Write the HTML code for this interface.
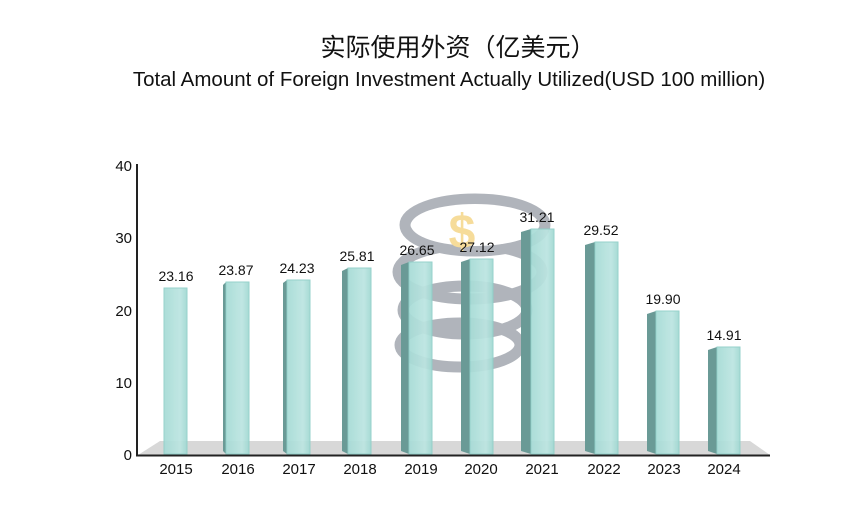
<!DOCTYPE html>
<html><head><meta charset="utf-8"><style>
html,body{margin:0;padding:0;background:#fff;}
svg{display:block;font-family:"Liberation Sans","Noto Sans CJK SC",sans-serif;}
</style></head><body>
<svg width="850" height="520" viewBox="0 0 850 520">
<defs>
<linearGradient id="fg" x1="0" y1="0" x2="1" y2="0">
<stop offset="0" stop-color="#a6dbd6"/><stop offset="0.7" stop-color="#bce5e1"/><stop offset="1" stop-color="#a0d8d2"/>
</linearGradient>
</defs>
<text x="458" y="56" font-size="25" text-anchor="middle" fill="#111">实际使用外资（亿美元）</text>
<text x="449" y="86" font-size="20.5" text-anchor="middle" fill="#111">Total Amount of Foreign Investment Actually Utilized(USD 100 million)</text>
<polygon points="160,441 750,441 770,455 138,455" fill="#d8d8d8"/>
<g fill="none" stroke="#a3a8b0" stroke-width="11" opacity="0.85">
<ellipse cx="460" cy="345" rx="60" ry="22"/>
<ellipse cx="465" cy="310" rx="62" ry="24"/>
<ellipse cx="470" cy="272" rx="72" ry="27"/>
<ellipse cx="475" cy="225" rx="70" ry="26"/>
</g>
<ellipse cx="475" cy="225" rx="64" ry="21" fill="#fff"/>
<text x="462" y="248" font-size="48" font-weight="bold" fill="#f6dc9a" text-anchor="middle">$</text>
<line x1="137" y1="164" x2="137" y2="456" stroke="#222" stroke-width="2"/>
<line x1="136" y1="455.5" x2="770" y2="455.5" stroke="#222" stroke-width="2"/>
<g font-size="15" fill="#111" text-anchor="end">
<text x="132" y="171">40</text><text x="132" y="243">30</text><text x="132" y="316">20</text><text x="132" y="388">10</text><text x="132" y="460">0</text>
</g>
<g fill="#6a9a96">
<polygon points="223,285 226,282 226,454 223,451"/>
<polygon points="283,283 287,280 287,454 283,451"/>
<polygon points="342,271 348,268 348,454 342,451"/>
<polygon points="401,265 409,262 409,454 401,451"/>
<polygon points="461,262 470,259 470,454 461,451"/>
<polygon points="521,232 531,229 531,454 521,451"/>
<polygon points="585,245 595,242 595,454 585,451"/>
<polygon points="647,314 656,311 656,454 647,451"/>
<polygon points="708,350 717,347 717,454 708,451"/>
</g>
<g fill="url(#fg)" stroke="#8fcfc8" stroke-width="1" opacity="0.93">
<rect x="164" y="288" width="23" height="166"/>
<rect x="226" y="282" width="23" height="172"/>
<rect x="287" y="280" width="23" height="174"/>
<rect x="348" y="268" width="23" height="186"/>
<rect x="409" y="262" width="23" height="192"/>
<rect x="470" y="259" width="23" height="195"/>
<rect x="531" y="229" width="23" height="225"/>
<rect x="595" y="242" width="23" height="212"/>
<rect x="656" y="311" width="23" height="143"/>
<rect x="717" y="347" width="23" height="107"/>
</g>
<g font-size="14" fill="#111" text-anchor="middle">
<text x="176" y="281">23.16</text><text x="236" y="275">23.87</text><text x="297" y="273">24.23</text><text x="357" y="261">25.81</text><text x="417" y="255">26.65</text><text x="477" y="252">27.12</text><text x="537" y="222">31.21</text><text x="601" y="235">29.52</text><text x="663" y="304">19.90</text><text x="724" y="340">14.91</text>
</g>
<g font-size="15" fill="#111" text-anchor="middle">
<text x="176" y="474">2015</text><text x="238" y="474">2016</text><text x="299" y="474">2017</text><text x="360" y="474">2018</text><text x="421" y="474">2019</text><text x="481" y="474">2020</text><text x="542" y="474">2021</text><text x="604" y="474">2022</text><text x="664" y="474">2023</text><text x="724" y="474">2024</text>
</g>
</svg>
</body></html>
